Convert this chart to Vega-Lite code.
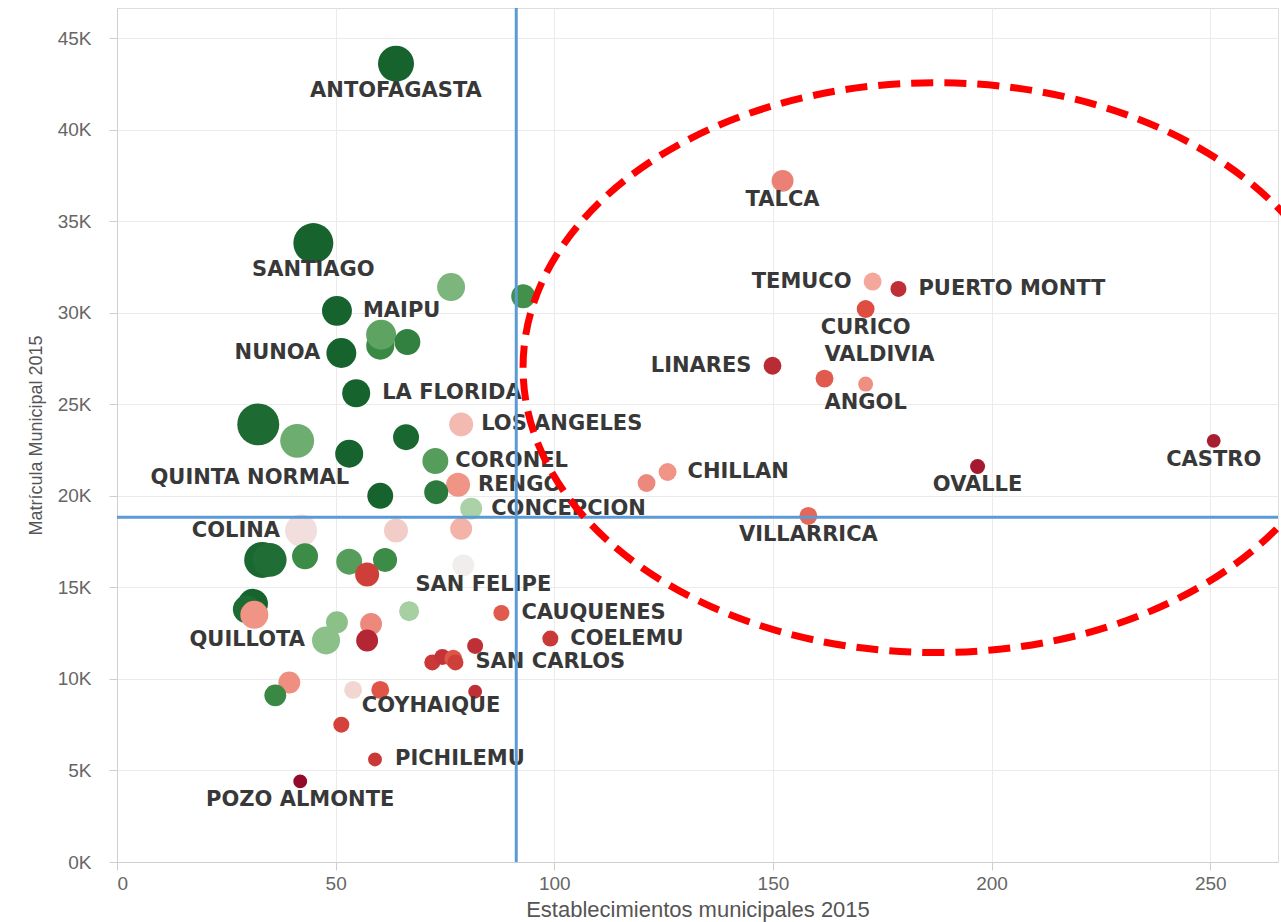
{
  "$schema": "https://vega.github.io/schema/vega-lite/v6.json",
  "width": 1161,
  "height": 854,
  "autosize": {"type": "none"},
  "padding": {"left": 117, "top": 8, "right": 3, "bottom": 60},
  "background": "white",
  "datasets": {
    "comunas": [
      {"est": 63.8, "mat": 43600, "tam": 81, "ind": -0.95, "nombre": "ANTOFAGASTA"},
      {"est": 44.9, "mat": 33800, "tam": 100, "ind": -0.95, "nombre": "SANTIAGO"},
      {"est": 76.4, "mat": 31400, "tam": 49, "ind": -0.45},
      {"est": 92.9, "mat": 30900, "tam": 36, "ind": -0.65},
      {"est": 50.3, "mat": 30100, "tam": 56, "ind": -0.95, "nombre": "MAIPU"},
      {"est": 60.2, "mat": 28200, "tam": 49, "ind": -0.7},
      {"est": 60.4, "mat": 28800, "tam": 56, "ind": -0.55},
      {"est": 66.4, "mat": 28400, "tam": 42, "ind": -0.75},
      {"est": 51.3, "mat": 27800, "tam": 56, "ind": -0.95, "nombre": "NUNOA"},
      {"est": 54.7, "mat": 25600, "tam": 49, "ind": -0.95, "nombre": "LA FLORIDA"},
      {"est": 32.3, "mat": 23900, "tam": 110, "ind": -0.9},
      {"est": 41.2, "mat": 23000, "tam": 72, "ind": -0.5},
      {"est": 66.1, "mat": 23200, "tam": 42, "ind": -0.92},
      {"est": 53.1, "mat": 22300, "tam": 49, "ind": -0.95, "nombre": "QUINTA NORMAL"},
      {"est": 78.7, "mat": 23900, "tam": 36, "ind": 0.22, "nombre": "LOS ANGELES"},
      {"est": 72.8, "mat": 21900, "tam": 42, "ind": -0.58, "nombre": "CORONEL"},
      {"est": 78.0, "mat": 20600, "tam": 36, "ind": 0.38, "nombre": "RENGO"},
      {"est": 73.0, "mat": 20200, "tam": 36, "ind": -0.8},
      {"est": 60.2, "mat": 20000, "tam": 42, "ind": -0.95},
      {"est": 81.0, "mat": 19300, "tam": 30, "ind": -0.28, "nombre": "CONCEPCION"},
      {"est": 42.1, "mat": 18100, "tam": 64, "ind": 0.06, "nombre": "COLINA"},
      {"est": 63.8, "mat": 18100, "tam": 36, "ind": 0.14},
      {"est": 78.7, "mat": 18200, "tam": 30, "ind": 0.25},
      {"est": 33.2, "mat": 16500, "tam": 81, "ind": -0.92},
      {"est": 34.9, "mat": 16500, "tam": 72, "ind": -0.88},
      {"est": 43.0, "mat": 16700, "tam": 42, "ind": -0.68},
      {"est": 53.1, "mat": 16400, "tam": 42, "ind": -0.58},
      {"est": 61.3, "mat": 16500, "tam": 36, "ind": -0.68},
      {"est": 57.2, "mat": 15700, "tam": 36, "ind": 0.72},
      {"est": 79.2, "mat": 16200, "tam": 30, "ind": 0.0, "nombre": "SAN FELIPE"},
      {"est": 31.1, "mat": 14100, "tam": 56, "ind": -0.95},
      {"est": 29.7, "mat": 13800, "tam": 49, "ind": -0.9},
      {"est": 31.4, "mat": 13500, "tam": 49, "ind": 0.38},
      {"est": 66.8, "mat": 13700, "tam": 25, "ind": -0.3},
      {"est": 87.9, "mat": 13600, "tam": 16, "ind": 0.6, "nombre": "CAUQUENES"},
      {"est": 50.3, "mat": 13100, "tam": 30, "ind": -0.4},
      {"est": 58.1, "mat": 13000, "tam": 30, "ind": 0.42},
      {"est": 47.8, "mat": 12100, "tam": 49, "ind": -0.4, "nombre": "QUILLOTA"},
      {"est": 57.2, "mat": 12100, "tam": 30, "ind": 0.85},
      {"est": 99.1, "mat": 12200, "tam": 16, "ind": 0.75, "nombre": "COELEMU"},
      {"est": 81.9, "mat": 11800, "tam": 16, "ind": 0.8},
      {"est": 72.1, "mat": 10900, "tam": 16, "ind": 0.75},
      {"est": 74.4, "mat": 11200, "tam": 16, "ind": 0.78},
      {"est": 76.9, "mat": 11100, "tam": 20, "ind": 0.62},
      {"est": 77.4, "mat": 10900, "tam": 16, "ind": 0.72, "nombre": "SAN CARLOS"},
      {"est": 39.4, "mat": 9800, "tam": 30, "ind": 0.4},
      {"est": 36.2, "mat": 9100, "tam": 30, "ind": -0.7},
      {"est": 54.0, "mat": 9400, "tam": 20, "ind": 0.1},
      {"est": 60.2, "mat": 9400, "tam": 20, "ind": 0.62},
      {"est": 81.9, "mat": 9300, "tam": 12, "ind": 0.8, "nombre": "COYHAIQUE"},
      {"est": 51.3, "mat": 7500, "tam": 16, "ind": 0.7},
      {"est": 59.0, "mat": 5600, "tam": 12, "ind": 0.75, "nombre": "PICHILEMU"},
      {"est": 41.9, "mat": 4400, "tam": 12, "ind": 1.0, "nombre": "POZO ALMONTE"},
      {"est": 152.2, "mat": 37200, "tam": 30, "ind": 0.45, "nombre": "TALCA"},
      {"est": 172.8, "mat": 31700, "tam": 20, "ind": 0.3, "nombre": "TEMUCO"},
      {"est": 178.7, "mat": 31300, "tam": 16, "ind": 0.8, "nombre": "PUERTO MONTT"},
      {"est": 171.2, "mat": 30200, "tam": 20, "ind": 0.65, "nombre": "CURICO"},
      {"est": 149.9, "mat": 27100, "tam": 20, "ind": 0.82, "nombre": "LINARES"},
      {"est": 161.8, "mat": 26400, "tam": 20, "ind": 0.6, "nombre": "VALDIVIA"},
      {"est": 171.2, "mat": 26100, "tam": 14, "ind": 0.4, "nombre": "ANGOL"},
      {"est": 250.8, "mat": 23000, "tam": 12, "ind": 0.9, "nombre": "CASTRO"},
      {"est": 196.8, "mat": 21600, "tam": 14, "ind": 0.92, "nombre": "OVALLE"},
      {"est": 125.9, "mat": 21300, "tam": 20, "ind": 0.38, "nombre": "CHILLAN"},
      {"est": 121.1, "mat": 20700, "tam": 20, "ind": 0.42},
      {"est": 158.1, "mat": 18900, "tam": 20, "ind": 0.55, "nombre": "VILLARRICA"}
    ],
    "promedios": [{"est_prom": 91.3, "mat_prom": 18830}],
    "zona": [{"cx": 187.3, "cy": 27000}]
  },
  "data": {"name": "comunas"},
  "encoding": {
    "x": {
      "field": "est", "type": "quantitative",
      "scale": {"domain": [0, 265.5], "nice": false, "zero": false},
      "axis": {
        "title": "Establecimientos municipales 2015",
        "values": [0, 50, 100, 150, 200, 250],
        "labelFontSize": 19, "labelPadding": 4,
        "titleFontSize": 22, "titlePadding": 6
      }
    },
    "y": {
      "field": "mat", "type": "quantitative",
      "scale": {"domain": [0, 46640], "nice": false, "zero": false},
      "axis": {
        "title": "Matrícula Municipal 2015",
        "values": [0, 5000, 10000, 15000, 20000, 25000, 30000, 35000, 40000, 45000],
        "labelExpr": "(datum.value / 1000) + 'K'",
        "labelFontSize": 19, "labelPadding": 18,
        "titleFontSize": 18, "titlePadding": 12
      }
    }
  },
  "layer": [
    {
      "mark": {"type": "circle", "opacity": 1},
      "encoding": {
        "size": {"field": "tam", "type": "quantitative", "scale": {"type": "linear", "domain": [0, 100], "range": [0, 1600], "zero": true}, "legend": null},
        "color": {
          "field": "ind", "type": "quantitative", "legend": null,
          "scale": {
            "domain": [-1, -0.66, -0.33, 0, 0.33, 0.66, 1],
            "range": ["#0f5c2a", "#3f8e48", "#9fcd9a", "#f1eded", "#f4a193", "#dc4a3d", "#940a2b"],
            "interpolate": "rgb"
          }
        }
      }
    },
    {
      "transform": [{"filter": {"field": "nombre", "oneOf": ["ANTOFAGASTA", "SANTIAGO"]}}],
      "mark": {"type": "text", "align": "center", "baseline": "middle", "dy": 27, "font": "DejaVu Sans", "fontWeight": "bold", "fontSize": 21, "color": "#383838"},
      "encoding": {"text": {"field": "nombre"}}
    },
    {
      "transform": [{"filter": {"field": "nombre", "oneOf": ["TALCA", "CURICO", "ANGOL", "OVALLE", "CASTRO", "VILLARRICA", "POZO ALMONTE"]}}],
      "mark": {"type": "text", "align": "center", "baseline": "middle", "dy": 19, "font": "DejaVu Sans", "fontWeight": "bold", "fontSize": 21, "color": "#383838"},
      "encoding": {"text": {"field": "nombre"}}
    },
    {
      "transform": [{"filter": {"field": "nombre", "oneOf": ["MAIPU", "LA FLORIDA"]}}],
      "mark": {"type": "text", "align": "left", "baseline": "middle", "dx": 26, "font": "DejaVu Sans", "fontWeight": "bold", "fontSize": 21, "color": "#383838"},
      "encoding": {"text": {"field": "nombre"}}
    },
    {
      "transform": [{"filter": {"field": "nombre", "oneOf": ["LOS ANGELES", "CORONEL", "RENGO", "CONCEPCION", "CAUQUENES", "COELEMU", "PICHILEMU", "PUERTO MONTT", "CHILLAN", "SAN CARLOS"]}}],
      "mark": {"type": "text", "align": "left", "baseline": "middle", "dx": 20, "font": "DejaVu Sans", "fontWeight": "bold", "fontSize": 21, "color": "#383838"},
      "encoding": {"text": {"field": "nombre"}}
    },
    {
      "transform": [{"filter": {"field": "nombre", "oneOf": ["NUNOA", "TEMUCO", "LINARES", "QUILLOTA", "COLINA"]}}],
      "mark": {"type": "text", "align": "right", "baseline": "middle", "dx": -21, "font": "DejaVu Sans", "fontWeight": "bold", "fontSize": 21, "color": "#383838"},
      "encoding": {"text": {"field": "nombre"}}
    },
    {
      "transform": [{"filter": {"field": "nombre", "equal": "QUINTA NORMAL"}}],
      "mark": {"type": "text", "align": "right", "baseline": "middle", "dx": 0, "dy": 24, "font": "DejaVu Sans", "fontWeight": "bold", "fontSize": 21, "color": "#383838"},
      "encoding": {"text": {"field": "nombre"}}
    },
    {
      "transform": [{"filter": {"field": "nombre", "equal": "SAN FELIPE"}}],
      "mark": {"type": "text", "align": "center", "baseline": "middle", "dx": 20, "dy": 20, "font": "DejaVu Sans", "fontWeight": "bold", "fontSize": 21, "color": "#383838"},
      "encoding": {"text": {"field": "nombre"}}
    },
    {
      "transform": [{"filter": {"field": "nombre", "equal": "COYHAIQUE"}}],
      "mark": {"type": "text", "align": "center", "baseline": "middle", "dx": -44, "dy": 14, "font": "DejaVu Sans", "fontWeight": "bold", "fontSize": 21, "color": "#383838"},
      "encoding": {"text": {"field": "nombre"}}
    },
    {
      "transform": [{"filter": {"field": "nombre", "equal": "VALDIVIA"}}],
      "mark": {"type": "text", "align": "left", "baseline": "middle", "dx": 0, "dy": -24, "font": "DejaVu Sans", "fontWeight": "bold", "fontSize": 21, "color": "#383838"},
      "encoding": {"text": {"field": "nombre"}}
    },
    {
      "data": {"name": "promedios"},
      "mark": {"type": "rule", "color": "#5b9bd5", "strokeWidth": 3},
      "encoding": {"x": {"field": "est_prom", "type": "quantitative"}, "y": null}
    },
    {
      "data": {"name": "promedios"},
      "mark": {"type": "rule", "color": "#5b9bd5", "strokeWidth": 3},
      "encoding": {"y": {"field": "mat_prom", "type": "quantitative"}, "x": null}
    },
    {
      "data": {"name": "zona"},
      "mark": {
        "type": "point",
        "shape": "M -1 0 C -1 -0.381 -0.5523 -0.69 0 -0.69 C 0.5523 -0.69 1 -0.381 1 0 C 1 0.381 0.5523 0.69 0 0.69 C -0.5523 0.69 -1 0.381 -1 0 Z",
        "size": 682276,
        "filled": false,
        "stroke": "#ff0000",
        "strokeWidth": 7,
        "strokeDash": [22, 11],
        "opacity": 1
      },
      "encoding": {
        "x": {"field": "cx", "type": "quantitative"},
        "y": {"field": "cy", "type": "quantitative"}
      }
    }
  ],
  "config": {
    "font": "Liberation Sans",
    "view": {"stroke": "#dddddd"},
    "axis": {
      "gridColor": "#ebebeb",
      "domainColor": "#cfcfcf",
      "tickColor": "#cfcfcf",
      "tickSize": 8,
      "labelColor": "#666666",
      "labelFont": "Liberation Sans",
      "titleColor": "#555555",
      "titleFont": "Liberation Sans",
      "titleFontWeight": "normal"
    }
  }
}
